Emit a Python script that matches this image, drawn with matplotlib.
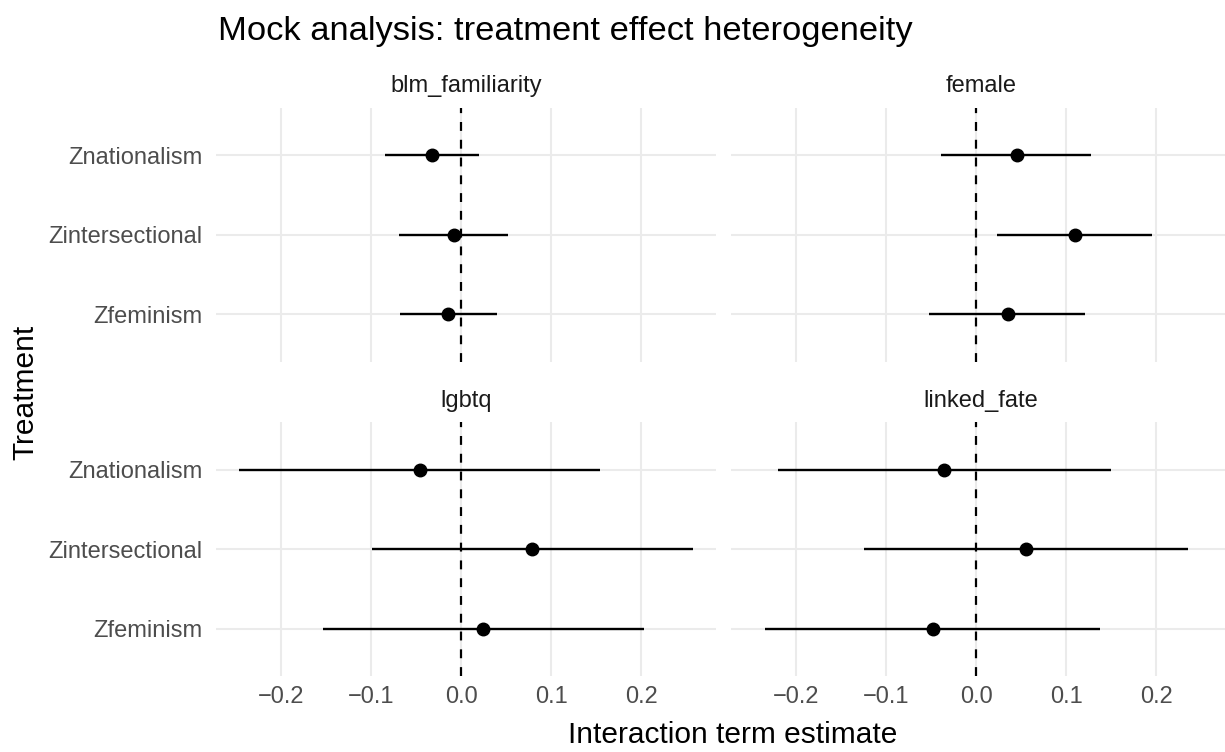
import numpy as np
import matplotlib
matplotlib.use("Agg")
import matplotlib.pyplot as plt

plt.rcParams["font.family"] = ["Liberation Sans", "DejaVu Sans"]

# ======================
# DATA
# ======================
facets = ["blm_familiarity", "female", "lgbtq", "linked_fate"]
treatments = ["Zfeminism", "Zintersectional", "Znationalism"]

estimate = {
    "blm_familiarity": [-0.014, -0.008, -0.032],
    "female": [0.035, 0.110, 0.045],
    "lgbtq": [0.024, 0.079, -0.046],
    "linked_fate": [-0.048, 0.055, -0.036],
}
lower = {
    "blm_familiarity": [-0.068, -0.069, -0.085],
    "female": [-0.052, 0.023, -0.039],
    "lgbtq": [-0.153, -0.099, -0.247],
    "linked_fate": [-0.234, -0.125, -0.220],
}
upper = {
    "blm_familiarity": [0.040, 0.052, 0.020],
    "female": [0.121, 0.196, 0.128],
    "lgbtq": [0.203, 0.258, 0.154],
    "linked_fate": [0.138, 0.235, 0.150],
}

x_ticks = [-0.2, -0.1, 0.0, 0.1, 0.2]
x_ticklabels = ["\u22120.2", "\u22120.1", "0.0", "0.1", "0.2"]

# ======================
# LAYOUT (pixels)
# ======================
W, H = 1225, 752
fig = plt.figure(figsize=(W / 100, H / 100), dpi=100)

panel_w, panel_h = 500, 254
lefts = [216, 731]
tops = [107.7, 422.3]

all_lo = min(min(v) for v in lower.values())
all_hi = max(max(v) for v in upper.values())
pad = 0.05 * (all_hi - all_lo)
xlim = (all_lo - pad, all_hi + pad)

GRID = "#EBEBEB"
ypos = np.arange(1, len(treatments) + 1)

for i, name in enumerate(facets):
    row, col = divmod(i, 2)
    l, t = lefts[col], tops[row]
    ax = fig.add_axes([l / W, 1 - (t + panel_h) / H, panel_w / W, panel_h / H])
    ax.set_xlim(*xlim)
    ax.set_ylim(0.4, len(treatments) + 0.6)
    for s in ax.spines.values():
        s.set_visible(False)

    for xv in x_ticks:
        ax.axvline(xv, color=GRID, lw=1.5, zorder=0)
    for yv in ypos:
        ax.axhline(yv, color=GRID, lw=1.5, zorder=0)

    ax.axvline(0, color="black", lw=1.6, linestyle=(0, (4, 4)), zorder=1)
    ax.hlines(ypos, lower[name], upper[name], color="black", lw=1.7, zorder=2)
    ax.plot(estimate[name], ypos, "o", color="black", markersize=9, zorder=3)

    ax.set_xticks(x_ticks)
    ax.set_yticks(ypos)
    ax.tick_params(axis="y", length=0, labelsize=17, labelcolor="#4D4D4D", pad=10)
    ax.tick_params(axis="x", length=0, labelsize=17, labelcolor="#4D4D4D", pad=7)
    if row == 1:
        ax.set_xticklabels(x_ticklabels)
    else:
        ax.set_xticklabels([])
    if col == 0:
        ax.set_yticklabels(treatments)
    else:
        ax.set_yticklabels([])

    ax.set_title(name, fontsize=17, color="#1A1A1A", pad=11)

fig.text(218 / W, 1 - 40 / H, "Mock analysis: treatment effect heterogeneity",
         fontsize=24.8, ha="left", va="baseline")
fig.text(733 / W, 1 - 735 / H, "Interaction term estimate",
         fontsize=21.5, ha="center", va="center")
fig.text(25 / W, 1 - 392 / H, "Treatment", fontsize=21.5, rotation=90,
         ha="center", va="center")

fig.savefig("out.png", dpi=100)
